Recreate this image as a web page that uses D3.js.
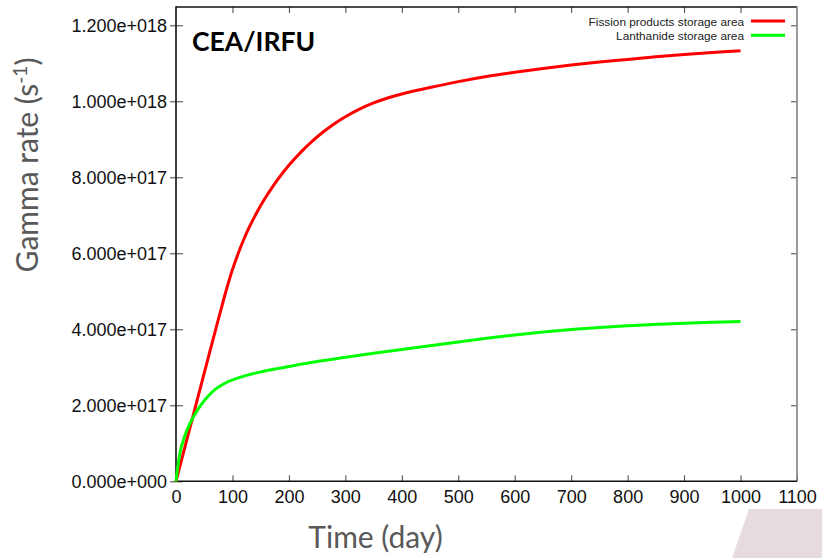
<!DOCTYPE html>
<html>
<head>
<meta charset="utf-8">
<script src="https://cdn.jsdelivr.net/npm/d3@7"></script>
<style>
  html, body { margin: 0; padding: 0; background: #fff; }
  svg { display: block; }
</style>
</head>
<body>
<svg id="chart" width="822" height="558"></svg>
<script>
// Gamma emission rate of the two storage areas over time (days).
const fissionDays = [0, 10, 20, 30, 40, 50, 60, 70, 80, 90, 100, 110, 120, 130, 140, 150, 160, 180, 200, 220, 240, 260, 280, 300, 325, 350, 375, 400, 450, 500, 550, 600, 650, 700, 750, 800, 850, 900, 950, 1000];
const fissionRate = [0, 0.057, 0.114, 0.171, 0.228, 0.285, 0.342, 0.398, 0.454, 0.508, 0.557, 0.599, 0.6363, 0.6693, 0.6986, 0.7256, 0.7501, 0.7941, 0.8317, 0.8643, 0.8931, 0.9185, 0.9405, 0.9595, 0.9795, 0.9958, 1.0088, 1.0193, 1.0363, 1.0518, 1.0653, 1.0763, 1.0863, 1.0953, 1.1033, 1.1103, 1.1173, 1.1233, 1.1283, 1.1328];

const lanthanideDays = [0, 3, 6, 9, 13, 18, 24, 30, 38, 47, 58, 70, 85, 100, 125, 150, 175, 200, 250, 300, 350, 400, 450, 500, 550, 600, 650, 700, 750, 800, 850, 900, 950, 1000];
const lanthanideRate = [0, 0.036, 0.065, 0.088, 0.1075, 0.129, 0.1495, 0.1675, 0.1872, 0.2064, 0.2256, 0.2425, 0.2568, 0.2668, 0.2788, 0.2878, 0.2955, 0.3023, 0.3153, 0.3265, 0.337, 0.347, 0.357, 0.3668, 0.3762, 0.385, 0.3928, 0.3995, 0.405, 0.4095, 0.413, 0.416, 0.4183, 0.4203];

// rates above are in units of 1e18 s^-1
const RATE_UNIT = 1e18;

const seriesNames = ["Fission products storage area", "Lanthanide storage area"];
const seriesColors = ["#ff0000", "#00ff00"];

const xTicks = [0, 100, 200, 300, 400, 500, 600, 700, 800, 900, 1000, 1100];
const yTicks = [0, 2e17, 4e17, 6e17, 8e17, 1e18, 1.2e18];
const yTickLabels = ["0.000e+000", "2.000e+017", "4.000e+017", "6.000e+017", "8.000e+017", "1.000e+018", "1.200e+018"];

const svg = d3.select("#chart");
const W = 822, H = 558;
const plot = { left: 176, right: 797, top: 6.3, bottom: 481.3 };

svg.append("rect").attr("width", W).attr("height", H).attr("fill", "#fff");

// slanted decorative panel in the lower-right corner
svg.append("polygon")
  .attr("points", [[749, 509], [W, 509], [W, H], [732, H]].map(p => p.join(",")).join(" "))
  .attr("fill", "#e7dcdd");

const x = d3.scaleLinear().domain([0, 1100]).range([plot.left, plot.right]);
const y = d3.scaleLinear().domain([0, 1.25e18]).range([plot.bottom, plot.top]);

const tickFont = "'Liberation Sans', Arial, sans-serif";

// bottom axis: inward ticks with labels below
const gx = svg.append("g")
  .attr("transform", `translate(0,${plot.bottom})`)
  .call(d3.axisBottom(x).tickValues(xTicks).tickFormat(d3.format("d"))
    .tickSizeInner(-6).tickSizeOuter(0).tickPadding(9));
gx.select(".domain").remove();
gx.selectAll(".tick line").attr("stroke", "#444");
gx.selectAll(".tick text")
  .attr("font-family", tickFont).attr("font-size", 18).attr("fill", "#111");

// left axis: ticks cross the frame
const gy = svg.append("g")
  .attr("transform", `translate(${plot.left},0)`)
  .call(d3.axisLeft(y).tickValues(yTicks).tickFormat((d, i) => yTickLabels[i])
    .tickSizeInner(6).tickSizeOuter(0).tickPadding(3));
gy.select(".domain").remove();
gy.selectAll(".tick line").attr("x1", 7).attr("stroke", "#444");
gy.selectAll(".tick text")
  .attr("font-family", tickFont).attr("font-size", 18).attr("fill", "#111");

// mirrored ticks on top and right
const gt = svg.append("g")
  .attr("transform", `translate(0,${plot.top + 0.7})`)
  .call(d3.axisTop(x).tickValues(xTicks.slice(1, -1)).tickFormat("").tickSizeInner(-6).tickSizeOuter(0));
gt.select(".domain").remove();
gt.selectAll(".tick line").attr("stroke", "#444");

const gr = svg.append("g")
  .attr("transform", `translate(${plot.right},0)`)
  .call(d3.axisRight(y).tickValues(yTicks.slice(1)).tickFormat("").tickSizeInner(-6).tickSizeOuter(0));
gr.select(".domain").remove();
gr.selectAll(".tick line").attr("stroke", "#444");

// frame
svg.append("line").attr("x1", plot.left).attr("x2", plot.right).attr("y1", plot.top + 0.7).attr("y2", plot.top + 0.7)
  .attr("stroke", "#111").attr("stroke-width", 1.3);
svg.append("line").attr("x1", plot.right).attr("x2", plot.right).attr("y1", plot.top).attr("y2", plot.bottom)
  .attr("stroke", "#808080").attr("stroke-width", 1.6);
svg.append("line").attr("x1", plot.left).attr("x2", plot.left).attr("y1", plot.top).attr("y2", plot.bottom + 0.8)
  .attr("stroke", "#111").attr("stroke-width", 1.6);
svg.append("line").attr("x1", plot.left).attr("x2", plot.right).attr("y1", plot.bottom).attr("y2", plot.bottom)
  .attr("stroke", "#111").attr("stroke-width", 1.6);

// curves
const series = [
  fissionDays.map((d, i) => [d, fissionRate[i] * RATE_UNIT]),
  lanthanideDays.map((d, i) => [d, lanthanideRate[i] * RATE_UNIT])
];
const line = d3.line().x(d => x(d[0])).y(d => y(d[1])).curve(d3.curveCatmullRom.alpha(0.5));
svg.append("g").selectAll("path").data(series).join("path")
  .attr("d", line)
  .attr("fill", "none")
  .attr("stroke", (d, i) => seriesColors[i])
  .attr("stroke-width", 3)
  .attr("stroke-linejoin", "round");

// legend
const legend = svg.append("g");
seriesNames.forEach((name, i) => {
  const ly = 21 + i * 14.3;
  legend.append("text")
    .attr("x", 744).attr("y", ly + 4.5)
    .attr("text-anchor", "end")
    .attr("font-family", tickFont).attr("font-size", 11.8).attr("fill", "#222")
    .text(name);
  legend.append("line")
    .attr("x1", 751).attr("x2", 785).attr("y1", ly).attr("y2", ly)
    .attr("stroke", seriesColors[i]).attr("stroke-width", 3);
});

// watermark label
svg.append("text")
  .attr("x", 192).attr("y", 51)
  .attr("font-family", "Lato, 'Open Sans', sans-serif").attr("font-weight", 700)
  .attr("font-size", 26.5).attr("fill", "#000")
  .text("CEA/IRFU");

// axis titles
const titleFont = "Lato, 'Open Sans', sans-serif";
svg.append("text")
  .attr("x", 375.5).attr("y", 548)
  .attr("text-anchor", "middle")
  .attr("font-family", titleFont).attr("font-size", 30).attr("fill", "#595959")
  .text("Time (day)");

const yt = svg.append("text")
  .attr("transform", "translate(38,165) rotate(-90)")
  .attr("text-anchor", "middle")
  .attr("font-family", titleFont).attr("font-size", 30).attr("fill", "#595959");
yt.append("tspan").text("Gamma rate (s");
yt.append("tspan").attr("font-size", 19).attr("dy", -11).text("-1");
yt.append("tspan").attr("dy", 11).text(")");
</script>
</body>
</html>
